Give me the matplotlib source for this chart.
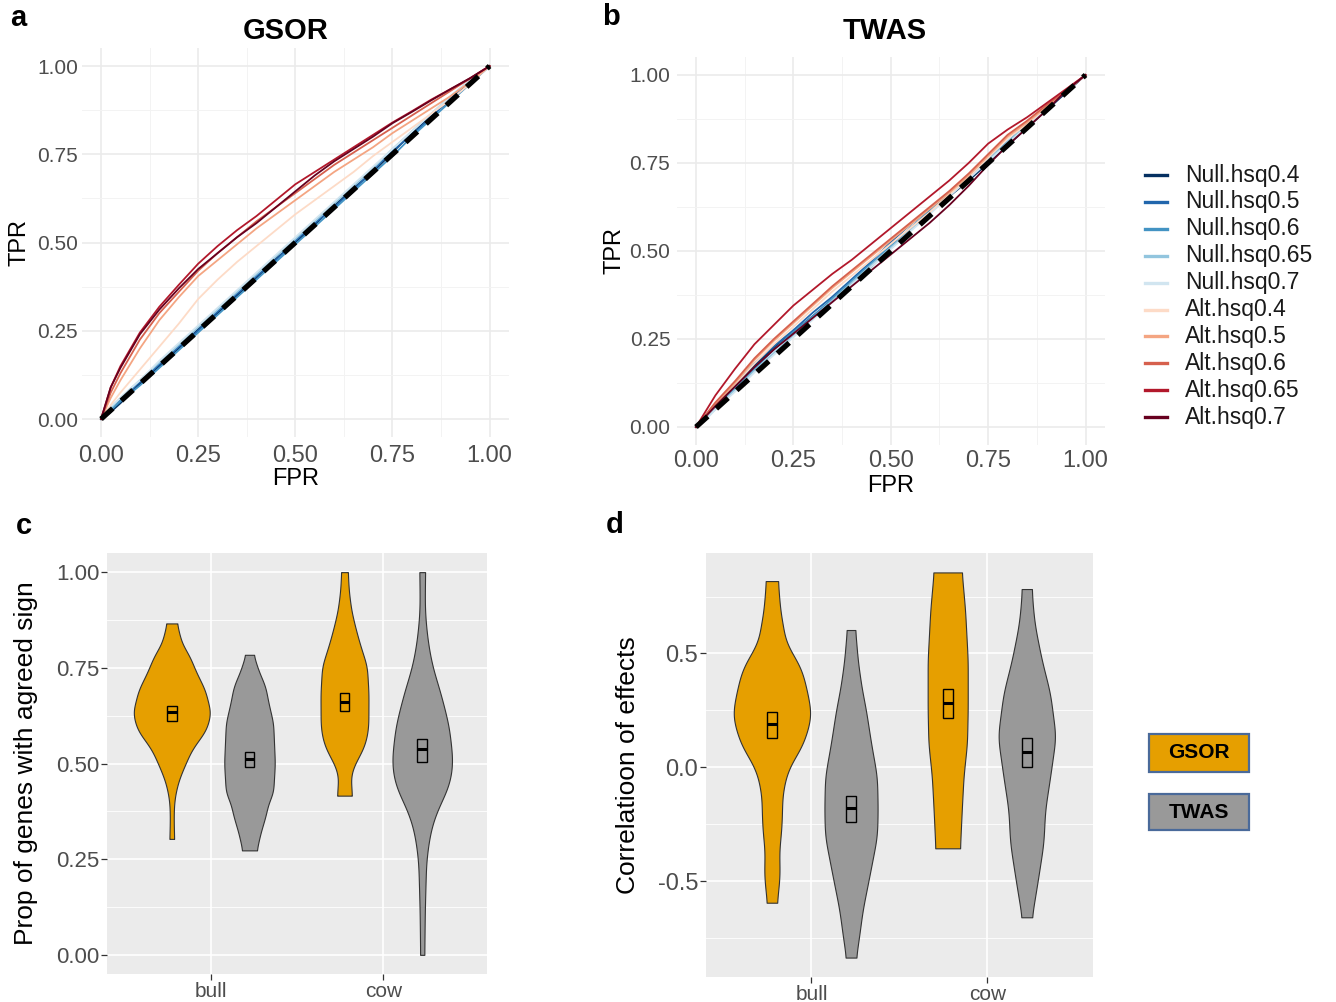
import numpy as np
import matplotlib
matplotlib.use('Agg')
import matplotlib.pyplot as plt
from matplotlib.lines import Line2D
from matplotlib.patches import Rectangle

plt.rcParams['font.family'] = ['Liberation Sans', 'DejaVu Sans']

# ---------------- ROC data (panels a, b) ----------------
fpr = [0, 0.025, 0.05, 0.1, 0.15, 0.2, 0.25, 0.3, 0.35, 0.4, 0.45, 0.5,
       0.55, 0.6, 0.65, 0.7, 0.75, 0.8, 0.85, 0.9, 0.95, 1.0]
series_names = ['Null.hsq0.4', 'Null.hsq0.5', 'Null.hsq0.6', 'Null.hsq0.65', 'Null.hsq0.7',
                'Alt.hsq0.4', 'Alt.hsq0.5', 'Alt.hsq0.6', 'Alt.hsq0.65', 'Alt.hsq0.7']
series_colors = ['#053061', '#2166AC', '#4393C3', '#92C5DE', '#D1E5F0',
                 '#FDDBC7', '#F4A582', '#D6604D', '#B2182B', '#67001F']

# GSOR TPR
gsor_null04 = [0, .02, .045, .10, .15, .20, .255, .30, .35, .40, .455, .50, .55, .605, .655, .70, .755, .81, .86, .905, .955, 1]
gsor_null05 = [0, .03, .055, .105, .155, .205, .25, .305, .355, .405, .45, .505, .555, .60, .65, .705, .76, .805, .855, .91, .95, 1]
gsor_null06 = [0, .025, .05, .095, .145, .195, .245, .295, .345, .395, .445, .495, .545, .595, .645, .695, .745, .80, .85, .90, .95, 1]
gsor_null065 = [0, .03, .06, .11, .16, .21, .26, .31, .36, .41, .46, .51, .56, .61, .66, .71, .765, .815, .865, .915, .96, 1]
gsor_null07 = [0, .035, .06, .11, .165, .215, .265, .315, .365, .415, .465, .515, .565, .615, .665, .715, .765, .815, .865, .915, .96, 1]
gsor_alt04 = [0, .04, .075, .14, .205, .27, .34, .395, .445, .49, .535, .58, .62, .66, .70, .745, .785, .825, .865, .905, .95, 1]
gsor_alt05 = [0, .06, .11, .20, .28, .345, .405, .45, .495, .54, .58, .62, .66, .70, .735, .77, .81, .845, .88, .915, .955, 1]
gsor_alt06 = [0, .075, .13, .225, .30, .36, .42, .47, .515, .56, .60, .64, .68, .72, .755, .79, .825, .86, .895, .93, .965, 1]
gsor_alt065 = [0, .09, .15, .245, .318, .38, .44, .49, .535, .575, .62, .665, .70, .735, .77, .805, .84, .872, .905, .935, .965, 1]
gsor_alt07 = [0, .09, .145, .24, .31, .37, .425, .47, .515, .555, .60, .645, .69, .73, .765, .80, .838, .87, .903, .935, .966, 1]

# TWAS TPR
twas_null04 = [0, .03, .055, .115, .175, .225, .27, .315, .36, .41, .455, .51, .565, .61, .655, .70, .75, .80, .85, .90, .95, 1]
twas_null05 = [0, .025, .055, .12, .18, .23, .275, .325, .37, .42, .47, .525, .575, .62, .665, .71, .76, .81, .86, .905, .955, 1]
twas_null06 = [0, .03, .06, .11, .165, .22, .27, .315, .365, .415, .465, .515, .565, .615, .66, .705, .755, .805, .855, .905, .955, 1]
twas_null065 = [0, .025, .05, .105, .16, .21, .26, .31, .36, .41, .46, .51, .56, .61, .66, .71, .76, .81, .86, .91, .955, 1]
twas_null07 = [0, .02, .05, .10, .155, .205, .255, .305, .355, .405, .455, .505, .555, .605, .655, .705, .755, .805, .855, .905, .955, 1]
twas_alt04 = [0, .03, .06, .12, .18, .235, .285, .335, .385, .43, .475, .52, .565, .61, .66, .71, .765, .82, .86, .91, .955, 1]
twas_alt05 = [0, .03, .065, .125, .19, .245, .295, .345, .395, .44, .485, .53, .575, .62, .665, .715, .77, .825, .865, .91, .955, 1]
twas_alt06 = [0, .035, .07, .13, .195, .25, .30, .35, .40, .445, .49, .535, .58, .625, .67, .72, .775, .83, .87, .915, .955, 1]
twas_alt065 = [0, .045, .09, .165, .235, .29, .345, .39, .435, .475, .52, .565, .61, .655, .70, .75, .805, .845, .88, .92, .96, 1]
twas_alt07 = [0, .03, .06, .115, .17, .22, .265, .31, .355, .40, .445, .49, .535, .58, .63, .685, .745, .80, .85, .90, .955, 1]

gsor_curves = [gsor_null04, gsor_null05, gsor_null06, gsor_null065, gsor_null07,
               gsor_alt04, gsor_alt05, gsor_alt06, gsor_alt065, gsor_alt07]
twas_curves = [twas_null04, twas_null05, twas_null06, twas_null065, twas_null07,
               twas_alt04, twas_alt05, twas_alt06, twas_alt065, twas_alt07]

# ---------------- violin data (panels c, d) ----------------
groups = ['bull', 'cow']
methods = ['GSOR', 'TWAS']
method_colors = ['#E69F00', '#999999']

# density profiles: y values and half widths
c_bull_gsor_y = [0.303, 0.33, 0.37, 0.405, 0.44, 0.466, 0.50, 0.536, 0.588, 0.632, 0.692, 0.74, 0.78, 0.814, 0.866]
c_bull_gsor_w = [0.014, 0.012, 0.011, 0.015, 0.03, 0.048, 0.08, 0.116, 0.20, 0.226, 0.193, 0.14, 0.104, 0.058, 0.029]
c_bull_twas_y = [0.273, 0.319, 0.361, 0.397, 0.423, 0.50, 0.606, 0.658, 0.701, 0.743, 0.784]
c_bull_twas_w = [0.041, 0.064, 0.092, 0.11, 0.137, 0.147, 0.137, 0.11, 0.092, 0.052, 0.023]
c_cow_gsor_y = [0.416, 0.44, 0.466, 0.50, 0.527, 0.56, 0.597, 0.684, 0.754, 0.815, 0.86, 0.901, 0.95, 1.0]
c_cow_gsor_w = [0.043, 0.04, 0.035, 0.06, 0.096, 0.125, 0.138, 0.139, 0.13, 0.087, 0.06, 0.039, 0.025, 0.019]
c_cow_twas_y = [0.0, 0.118, 0.248, 0.326, 0.379, 0.44, 0.501, 0.597, 0.684, 0.754, 0.815, 0.87, 0.901, 0.95, 1.0]
c_cow_twas_w = [0.012, 0.015, 0.023, 0.048, 0.087, 0.155, 0.178, 0.155, 0.106, 0.058, 0.033, 0.02, 0.015, 0.015, 0.017]

d_bull_gsor_y = [-0.595, -0.50, -0.45, -0.378, -0.26, -0.114, -0.012, 0.105, 0.222, 0.30, 0.427, 0.50, 0.545, 0.691, 0.818]
d_bull_gsor_w = [0.028, 0.042, 0.045, 0.04, 0.055, 0.06, 0.09, 0.18, 0.224, 0.21, 0.171, 0.118, 0.08, 0.047, 0.034]
d_bull_twas_y = [-0.836, -0.75, -0.627, -0.48, -0.305, -0.188, -0.041, 0.106, 0.252, 0.35, 0.471, 0.55, 0.603]
d_bull_twas_w = [0.028, 0.045, 0.066, 0.104, 0.148, 0.152, 0.148, 0.114, 0.085, 0.06, 0.038, 0.03, 0.023]
d_cow_gsor_y = [-0.356, -0.188, -0.041, 0.106, 0.252, 0.471, 0.691, 0.856]
d_cow_gsor_w = [0.07, 0.08, 0.09, 0.11, 0.114, 0.114, 0.099, 0.08]
d_cow_twas_y = [-0.659, -0.58, -0.48, -0.334, -0.188, -0.041, 0.134, 0.325, 0.471, 0.618, 0.70, 0.783]
d_cow_twas_w = [0.028, 0.045, 0.066, 0.095, 0.104, 0.133, 0.165, 0.133, 0.085, 0.047, 0.035, 0.028]

# inner boxes (order: bull GSOR, bull TWAS, cow GSOR, cow TWAS)
c_box_lo = [0.612, 0.490, 0.636, 0.505]
c_box_mid = [0.634, 0.512, 0.660, 0.537]
c_box_hi = [0.649, 0.531, 0.684, 0.564]
d_box_lo = [0.130, -0.242, 0.218, 0.003]
d_box_mid = [0.190, -0.180, 0.284, 0.066]
d_box_hi = [0.242, -0.125, 0.344, 0.127]

c_profiles = [(c_bull_gsor_y, c_bull_gsor_w), (c_bull_twas_y, c_bull_twas_w),
              (c_cow_gsor_y, c_cow_gsor_w), (c_cow_twas_y, c_cow_twas_w)]
d_profiles = [(d_bull_gsor_y, d_bull_gsor_w), (d_bull_twas_y, d_bull_twas_w),
              (d_cow_gsor_y, d_cow_gsor_w), (d_cow_twas_y, d_cow_twas_w)]

# ---------------- layout helpers ----------------
W, H = 1336, 1002
fig = plt.figure(figsize=(W / 100, H / 100), dpi=100)


def px_box(l, t, r, b):
    return [l / W, 1 - b / H, (r - l) / W, (b - t) / H]


def ftext(x, y, s, **kw):
    fig.text(x / W, 1 - y / H, s, **kw)


def roc_panel(ax, curves, xpad, ypad):
    for name, col, tpr in zip(series_names, series_colors, curves):
        ax.plot(fpr, tpr, color=col, lw=1.3, solid_joinstyle='round')
    ax.plot([0, 1], [0, 1], color='black', lw=3.8, dashes=(3.0, 2.2))
    ax.set_xlim(-0.05, 1.05)
    ax.set_ylim(-0.05, 1.05)
    ticks = [0, 0.25, 0.5, 0.75, 1.0]
    labs = ['0.00', '0.25', '0.50', '0.75', '1.00']
    ax.set_xticks(ticks)
    ax.set_xticklabels(labs)
    ax.set_yticks(ticks)
    ax.set_yticklabels(labs)
    ax.set_xticks([0.125, 0.375, 0.625, 0.875], minor=True)
    ax.set_yticks([0.125, 0.375, 0.625, 0.875], minor=True)
    ax.grid(which='major', color='#EBEBEB', lw=1.2)
    ax.grid(which='minor', color='#F3F3F3', lw=0.7)
    ax.set_axisbelow(True)
    ax.tick_params(which='both', length=0)
    ax.tick_params(axis='x', labelsize=17, labelcolor='#4D4D4D', pad=xpad)
    ax.tick_params(axis='y', labelsize=15, labelcolor='#4D4D4D', pad=ypad)
    for s in ax.spines.values():
        s.set_visible(False)


def violin_outline(ys, ws, n=300, k=41):
    yy = np.linspace(ys[0], ys[-1], n)
    ww = np.interp(yy, ys, ws)
    kern = np.hanning(k)
    kern = kern / kern.sum()
    ww = np.convolve(np.pad(ww, k // 2, mode='edge'), kern, mode='valid')
    return yy, ww


def violin_panel(ax, profiles, lo, mid, hi):
    ax.set_facecolor('#EBEBEB')
    i = 0
    for g in range(len(groups)):
        for m in range(len(methods)):
            x = g + 1 + (-0.225 if m == 0 else 0.225)
            ys, ws = profiles[i]
            yy, ww = violin_outline(ys, ws)
            ax.fill_betweenx(yy, x - ww, x + ww, facecolor=method_colors[m],
                             edgecolor='#333333', lw=0.8, zorder=2)
            bw = 0.055
            ax.add_patch(Rectangle((x - bw / 2, lo[i]), bw, hi[i] - lo[i], fill=False,
                                   ec='black', lw=1.0, zorder=3))
            ax.plot([x - bw / 2, x + bw / 2], [mid[i], mid[i]], color='black', lw=2.2,
                    solid_capstyle='butt', zorder=4)
            i += 1
    ax.set_xlim(0.4, 2.6)
    ax.set_xticks([1, 2])
    ax.set_xticklabels(groups)
    ax.grid(which='major', color='white', lw=1.2)
    ax.grid(which='minor', axis='y', color='white', lw=0.6)
    ax.set_axisbelow(True)
    ax.tick_params(which='major', length=4, width=0.9, color='#333333')
    ax.tick_params(which='minor', length=0)
    ax.tick_params(axis='x', labelsize=15, labelcolor='#4D4D4D', pad=2)
    for s in ax.spines.values():
        s.set_visible(False)


# ---------------- panel a ----------------
ax_a = fig.add_axes(px_box(81.6, 48.4, 509, 436.7))
roc_panel(ax_a, gsor_curves, xpad=6, ypad=2.5)
ax_a.set_xlabel('FPR', fontsize=17, color='black', va='center')
ax_a.xaxis.set_label_coords(0.5, -(479 - 436.7) / 388.3)
ax_a.set_ylabel('TPR', fontsize=17, color='black', va='center')
ax_a.yaxis.set_label_coords((20 - 81.6) / 427.4, 0.5)

# ---------------- panel b ----------------
ax_b = fig.add_axes(px_box(676.5, 57.4, 1105, 444.6))
roc_panel(ax_b, twas_curves, xpad=4, ypad=4.5)
ax_b.set_xlabel('FPR', fontsize=17, color='black', va='center')
ax_b.xaxis.set_label_coords(0.5, -(486 - 444.6) / 387.2)
ax_b.set_ylabel('TPR', fontsize=17, color='black', va='center')
ax_b.yaxis.set_label_coords((614 - 676.5) / 428.5, 0.5)

# shared ROC legend
for i, (name, col) in enumerate(zip(series_names, series_colors)):
    yy = 175 + i * 26.9
    fig.add_artist(Line2D([1145 / W, 1167 / W], [1 - yy / H, 1 - yy / H],
                          transform=fig.transFigure, color=col, lw=2.4))
    ftext(1185, yy, name, fontsize=16.5, color='#1A1A1A', va='center', ha='left')

# ---------------- panel c ----------------
ax_c = fig.add_axes(px_box(107, 553, 487, 974))
violin_panel(ax_c, c_profiles, c_box_lo, c_box_mid, c_box_hi)
ax_c.set_ylim(-0.05, 1.05)
ax_c.set_yticks([0, 0.25, 0.5, 0.75, 1.0])
ax_c.set_yticklabels(['0.00', '0.25', '0.50', '0.75', '1.00'])
ax_c.set_yticks([0.125, 0.375, 0.625, 0.875], minor=True)
ax_c.tick_params(axis='y', labelsize=16, labelcolor='#4D4D4D', pad=1.5)
ax_c.set_ylabel('Prop of genes with agreed sign', fontsize=19, va='center')
ax_c.yaxis.set_label_coords((26 - 107) / 380, 0.5)

# ---------------- panel d ----------------
ax_d = fig.add_axes(px_box(706, 553.3, 1092.7, 976.7))
violin_panel(ax_d, d_profiles, d_box_lo, d_box_mid, d_box_hi)
ax_d.set_ylim(-0.92, 0.94)
ax_d.set_yticks([-0.5, 0.0, 0.5])
ax_d.set_yticklabels(['-0.5', '0.0', '0.5'])
ax_d.set_yticks([-0.75, -0.25, 0.25, 0.75], minor=True)
ax_d.tick_params(axis='y', labelsize=17, labelcolor='#4D4D4D', pad=1.5)
ax_d.set_ylabel('Correlatioon of effects', fontsize=19, va='center')
ax_d.yaxis.set_label_coords((628 - 706) / 386.7, 0.5)

# legend boxes for c/d
for (name, col, top, bot) in [('GSOR', method_colors[0], 734, 772), ('TWAS', method_colors[1], 794, 830)]:
    fig.add_artist(Rectangle((1149 / W, 1 - bot / H), 100 / W, (bot - top) / H,
                             transform=fig.transFigure, facecolor=col,
                             edgecolor='#4A6A9A', lw=1.6))
    ftext(1199, (top + bot) / 2, name, fontsize=15, fontweight='bold',
          ha='center', va='center', color='black')

# titles and panel letters
ftext(286, 31, 'GSOR', fontsize=21, fontweight='bold', ha='center', va='center')
ftext(885, 31, 'TWAS', fontsize=21, fontweight='bold', ha='center', va='center')
ftext(18, 18, 'a', fontsize=21, fontweight='bold', ha='center', va='center')
ftext(611, 17, 'b', fontsize=21, fontweight='bold', ha='center', va='center')
ftext(24, 526, 'c', fontsize=21, fontweight='bold', ha='center', va='center')
ftext(615, 525, 'd', fontsize=21, fontweight='bold', ha='center', va='center')

fig.savefig('out.png', dpi=100, facecolor='white')
